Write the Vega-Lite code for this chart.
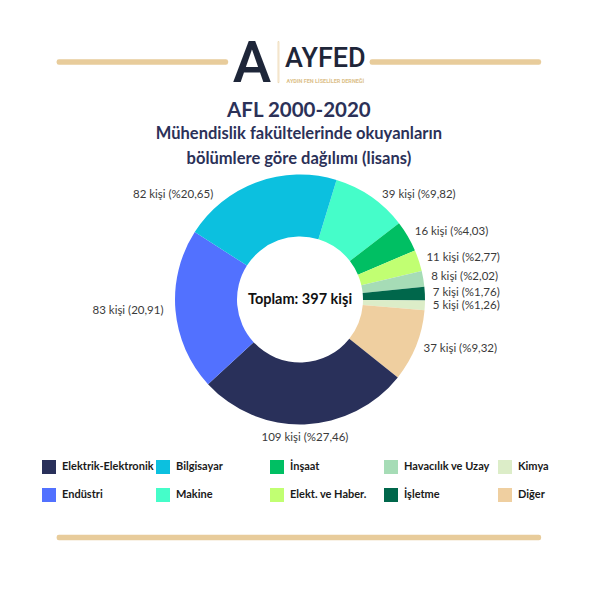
{
  "$schema": "https://vega.github.io/schema/vega-lite/v6.json",
  "padding": 0,
  "background": "#ffffff",
  "datasets": {
    "bolumler": [
      {"bolum": "Makine", "kisi": 39, "etiket": "39 kişi (%9,82)", "sira": 1},
      {"bolum": "İnşaat", "kisi": 16, "etiket": "16 kişi (%4,03)", "sira": 2},
      {"bolum": "Elekt. ve Haber.", "kisi": 11, "etiket": "11 kişi (%2,77)", "sira": 3},
      {"bolum": "Havacılık ve Uzay", "kisi": 8, "etiket": "8 kişi (%2,02)", "sira": 4},
      {"bolum": "İşletme", "kisi": 7, "etiket": "7 kişi (%1,76)", "sira": 5},
      {"bolum": "Kimya", "kisi": 5, "etiket": "5 kişi (%1,26)", "sira": 6},
      {"bolum": "Diğer", "kisi": 37, "etiket": "37 kişi (%9,32)", "sira": 7},
      {"bolum": "Elektrik-Elektronik", "kisi": 109, "etiket": "109 kişi (%27,46)", "sira": 8},
      {"bolum": "Endüstri", "kisi": 83, "etiket": "83 kişi (20,91)", "sira": 9},
      {"bolum": "Bilgisayar", "kisi": 82, "etiket": "82 kişi (%20,65)", "sira": 10}
    ]
  },
  "config": {"view": {"stroke": null}, "font": "Lato"},
  "spacing": -5,
  "bounds": "full",
  "center": true,
  "vconcat": [
    {
      "spacing": 0,
      "bounds": "flush",
      "center": true,
      "title": {
        "text": "AFL 2000-2020",
        "subtitle": ["Mühendislik fakültelerinde okuyanların", "bölümlere göre dağılımı (lisans)"],
        "orient": "bottom", "anchor": "middle", "frame": "bounds", "offset": -23,
        "font": "Lato", "fontSize": 20.5, "fontWeight": "bold", "color": "#2b3158",
        "subtitleFont": "Lato", "subtitleFontSize": 16.5, "subtitleFontWeight": "bold", "subtitleColor": "#2b3158",
        "subtitlePadding": 4, "subtitleLineHeight": 25
      },
      "hconcat": [
        {"width": 167, "height": 1, "view": {"stroke": "#e8cc9b", "strokeWidth": 4.5, "strokeJoin": "round"}, "data": {"values": [{}]}, "mark": {"type": "text"}, "encoding": {"text": {"value": ""}}},
        {"width": 52, "height": 124, "data": {"values": [{"t": "A"}]}, "mark": {"type": "text", "font": "Roboto", "fontSize": 58, "fontWeight": 500, "color": "#1e2639", "align": "center", "baseline": "middle", "dy": 3}, "encoding": {"text": {"field": "t"}}},
        {"width": 1, "height": 41, "view": {"stroke": "#e8cc9b", "strokeWidth": 0.6}, "data": {"values": [{}]}, "mark": {"type": "text"}, "encoding": {"text": {"value": ""}}},
        {"width": 93, "height": 124, "data": {"values": [{"t": "AYFED", "k": "AYDIN FEN LİSELİLER DERNEĞİ"}]},
         "layer": [
           {"mark": {"type": "text", "font": "Roboto", "fontSize": 27, "fontWeight": 500, "color": "#1e2639", "dy": -3}, "encoding": {"text": {"field": "t"}}},
           {"mark": {"type": "text", "font": "Roboto", "fontSize": 5.5, "fontWeight": "bold", "color": "#dcbf8a", "dy": 19}, "encoding": {"text": {"field": "k"}}}
         ]},
        {"width": 167, "height": 1, "view": {"stroke": "#e8cc9b", "strokeWidth": 4.5, "strokeJoin": "round"}, "data": {"values": [{}]}, "mark": {"type": "text"}, "encoding": {"text": {"value": ""}}}
      ]
    },
    {
      "width": 600,
      "height": 225,
      "data": {"name": "bolumler"},
      "layer": [
        {
          "mark": {"type": "arc", "innerRadius": 63, "outerRadius": 125},
          "encoding": {
            "theta": {"field": "kisi", "type": "quantitative", "stack": true, "scale": {"range": [0.2967, 6.5799], "nice": false, "zero": true}},
            "order": {"field": "sira", "type": "quantitative"},
            "color": {
              "field": "bolum", "type": "nominal",
              "scale": {
                "domain": ["Elektrik-Elektronik", "Bilgisayar", "İnşaat", "Havacılık ve Uzay", "Kimya", "Endüstri", "Makine", "Elekt. ve Haber.", "İşletme", "Diğer"],
                "range": ["#29305a", "#0cc0df", "#00bf63", "#a6dcb6", "#dcedc8", "#5271ff", "#45fdc9", "#c1ff72", "#00674b", "#efcfa0"]
              },
              "legend": {
                "orient": "none", "legendX": 42, "legendY": 460, "direction": "horizontal", "columns": 5,
                "title": null, "symbolType": "square", "symbolSize": 196, "symbolStrokeWidth": 0, "symbolOpacity": 1,
                "labelFont": "Lato", "labelFontSize": 11, "labelFontWeight": "bold", "labelColor": "#1a1a1a",
                "labelOffset": 6, "columnPadding": 2, "rowPadding": 14, "gridAlign": "all", "padding": 0, "labelLimit": 200
              }
            }
          }
        },
        {
          "mark": {"type": "text", "radius": 133, "thetaOffset": 0.06, "align": "left", "baseline": "middle", "font": "Lato", "fontSize": 11.5, "color": "#3a3a3a"},
          "encoding": {
            "theta": {"field": "kisi", "type": "quantitative", "stack": true},
            "order": {"field": "sira", "type": "quantitative"},
            "text": {"condition": {"test": "datum.bolum === 'Makine'", "field": "etiket", "type": "nominal"}, "value": ""}
          }
        },
        {
          "mark": {"type": "text", "radius": 133, "align": "left", "baseline": "middle", "font": "Lato", "fontSize": 11.5, "color": "#3a3a3a"},
          "encoding": {
            "theta": {"field": "kisi", "type": "quantitative", "stack": true},
            "order": {"field": "sira", "type": "quantitative"},
            "text": {"condition": {"test": "indexof(['İnşaat','Elekt. ve Haber.','Havacılık ve Uzay','İşletme','Kimya','Diğer'], datum.bolum) >= 0", "field": "etiket", "type": "nominal"}, "value": ""}
          }
        },
        {
          "mark": {"type": "text", "radius": 139, "align": "center", "baseline": "middle", "font": "Lato", "fontSize": 11.5, "color": "#3a3a3a"},
          "encoding": {
            "theta": {"field": "kisi", "type": "quantitative", "stack": true},
            "order": {"field": "sira", "type": "quantitative"},
            "text": {"condition": {"test": "datum.bolum === 'Elektrik-Elektronik'", "field": "etiket", "type": "nominal"}, "value": ""}
          }
        },
        {
          "mark": {"type": "text", "radius": 137, "align": "right", "baseline": "middle", "font": "Lato", "fontSize": 11.5, "color": "#3a3a3a"},
          "encoding": {
            "theta": {"field": "kisi", "type": "quantitative", "stack": true},
            "order": {"field": "sira", "type": "quantitative"},
            "text": {"condition": {"test": "datum.bolum === 'Endüstri'", "field": "etiket", "type": "nominal"}, "value": ""}
          }
        },
        {
          "mark": {"type": "text", "radius": 136, "thetaOffset": -0.34, "align": "right", "baseline": "middle", "font": "Lato", "fontSize": 11.5, "color": "#3a3a3a"},
          "encoding": {
            "theta": {"field": "kisi", "type": "quantitative", "stack": true},
            "order": {"field": "sira", "type": "quantitative"},
            "text": {"condition": {"test": "datum.bolum === 'Bilgisayar'", "field": "etiket", "type": "nominal"}, "value": ""}
          }
        },
        {
          "data": {"values": [{"t": "Toplam: 397 kişi"}]},
          "mark": {"type": "text", "font": "Lato", "fontSize": 14.5, "fontWeight": "bold", "color": "#111111", "align": "center", "baseline": "middle"},
          "encoding": {"text": {"field": "t", "type": "nominal"}}
        }
      ]
    },
    {"width": 480, "height": 90, "data": {"values": [{}]}, "mark": {"type": "text"}, "encoding": {"text": {"value": ""}}},
    {"width": 480, "height": 1, "view": {"stroke": "#e8cc9b", "strokeWidth": 4.5, "strokeJoin": "round"}, "data": {"values": [{}]}, "mark": {"type": "text"}, "encoding": {"text": {"value": ""}}}
  ]
}
